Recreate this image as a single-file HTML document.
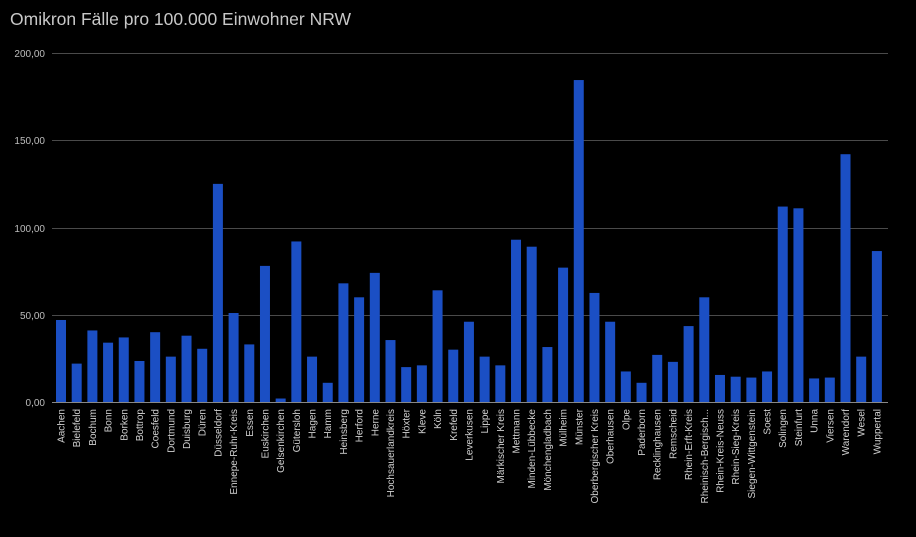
<!DOCTYPE html>
<html><head><meta charset="utf-8"><style>
html,body{margin:0;padding:0;background:#000;}
svg{display:block;font-family:"Liberation Sans",sans-serif;}
</style></head><body>
<svg id="c" width="916" height="537" xmlns="http://www.w3.org/2000/svg">
<rect width="916" height="537" fill="#000"/>
<text x="10" y="25" fill="#c8c8c8" font-size="17.5">Omikron Fälle pro 100.000 Einwohner NRW</text>
<g stroke="#4a4a4a" stroke-width="1">
<line x1="52" x2="888" y1="53.5" y2="53.5"/>
<line x1="52" x2="888" y1="140.5" y2="140.5"/>
<line x1="52" x2="888" y1="228.5" y2="228.5"/>
<line x1="52" x2="888" y1="315.5" y2="315.5"/>
</g>
<g fill="#bdbdbd" font-size="10" text-anchor="end">
<text x="45" y="57">200,00</text>
<text x="45" y="144">150,00</text>
<text x="45" y="232">100,00</text>
<text x="45" y="319">50,00</text>
<text x="45" y="406">0,00</text>
</g>
<g id="bars"></g>
<line x1="52" x2="888" y1="402.5" y2="402.5" stroke="#888" stroke-width="1"/>
<g id="labels" fill="#d0d0d0" font-size="10"></g>
</svg>
<script>
var d=[["Aachen",47],["Bielefeld",22],["Bochum",41],["Bonn",34],["Borken",37],["Bottrop",23.5],["Coesfeld",40],["Dortmund",26],["Duisburg",38],["Düren",30.5],["Düsseldorf",125],["Ennepe-Ruhr-Kreis",51],["Essen",33],["Euskirchen",78],["Gelsenkirchen",2],["Gütersloh",92],["Hagen",26],["Hamm",11],["Heinsberg",68],["Herford",60],["Herne",74],["Hochsauerlandkreis",35.5],["Höxter",20],["Kleve",21],["Köln",64],["Krefeld",30],["Leverkusen",46],["Lippe",26],["Märkischer Kreis",21],["Mettmann",93],["Minden-Lübbecke",89],["Mönchengladbach",31.5],["Mülheim",77],["Münster",184.5],["Oberbergischer Kreis",62.5],["Oberhausen",46],["Olpe",17.5],["Paderborn",11],["Recklinghausen",27],["Remscheid",23],["Rhein-Erft-Kreis",43.5],["Rheinisch-Bergisch...",60],["Rhein-Kreis-Neuss",15.5],["Rhein-Sieg-Kreis",14.5],["Siegen-Wittgenstein",14],["Soest",17.5],["Solingen",112],["Steinfurt",111],["Unna",13.5],["Viersen",14],["Warendorf",142],["Wesel",26],["Wuppertal",86.5]];
var ns="http://www.w3.org/2000/svg",b=document.getElementById("bars"),l=document.getElementById("labels");
d.forEach(function(e,i){var cx=61+i*15.69,h=e[1]*349/200;
var r=document.createElementNS(ns,"rect");r.setAttribute("x",cx-5);r.setAttribute("y",402-h);r.setAttribute("width",10);r.setAttribute("height",h);r.setAttribute("fill","#1b4fc4");b.appendChild(r);
var t=document.createElementNS(ns,"text");t.setAttribute("transform","translate("+(cx+3.5)+",409) rotate(-90)");t.setAttribute("text-anchor","end");t.textContent=e[0];l.appendChild(t);});
</script>
</body></html>
